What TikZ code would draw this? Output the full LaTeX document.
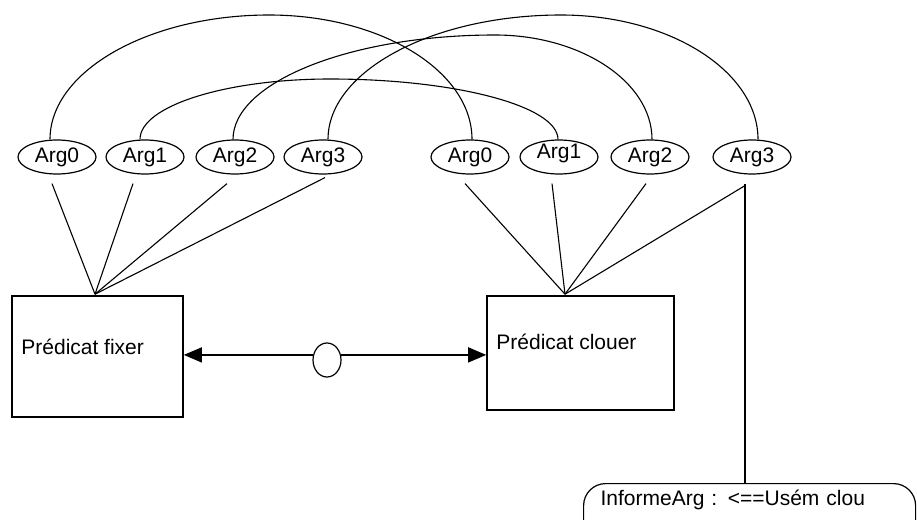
\documentclass[tikz,border=0pt]{standalone}
\usepackage{fontspec}
\setmainfont{Liberation Sans}
\usetikzlibrary{calc,arrows.meta,shapes.geometric}
\begin{document}
\begin{tikzpicture}[x=1pt,y=-1pt,
  font=\fontsize{21}{25}\selectfont,
  arg/.style={draw,ellipse,line width=1.2pt,minimum width=78pt,minimum height=34pt,
    inner sep=0pt,text height=15pt,text depth=4pt},
  pred/.style={draw,rectangle,line width=1.6pt,inner sep=0pt},
  plabel/.style={inner sep=0pt,anchor=base west},
  link/.style={line width=1.1pt},
  arcline/.style={line width=1.1pt},
  relation/.style={line width=1.4pt,>={Triangle[length=18pt,width=15pt]}},
  info/.style={draw,rounded corners=22pt,line width=1.2pt,minimum width=332pt,
    minimum height=60pt,inner xsep=17pt,inner ysep=0pt,text width=298pt,align=left,
    text height=16pt,text depth=32pt}]
\useasboundingbox (0,0) rectangle (917,519);
\clip (0,0) rectangle (917,519);

% argument slots of the two predicates
\node[arg] (l0) at (57,157) {Arg0};
\node[arg] (l1) at (145,157) {Arg1};
\node[arg] (l2) at (235,157) {Arg2};
\node[arg] (l3) at (323,157) {Arg3};
\node[arg] (r0) at (470,157) {Arg0};
\node[arg] (r1) at (559,157) {\raisebox{4pt}{Arg1}};
\node[arg] (r2) at (650,157) {Arg2};
\node[arg] (r3) at (752,157) {Arg3};

% predicate boxes
\node[pred,minimum width=171pt,minimum height=121pt] (lbox) at (97.5,356.5) {};
\node[pred,minimum width=187pt,minimum height=114pt] (rbox) at (580.5,353) {};
\node[plabel] (ltxt) at ($(lbox.north west)+(10,59)$) {Prédicat fixer};
\node[plabel] (rtxt) at ($(rbox.north west)+(10,54)$) {Prédicat clouer};

% relation between the predicates
\node[draw,ellipse,minimum width=28pt,minimum height=34pt,inner sep=0pt,line width=1.2pt] (mid) at (327,360) {};
\draw[relation,<-] (mid.160 -| lbox.east) -- (mid.160);
\draw[relation,->] (mid.20) -- (mid.20 -| rbox.west);

% slots hanging from each predicate
\coordinate (lhub) at ($(lbox.north)+(-2.5,-1)$);
\coordinate (rhub) at ($(rbox.north)+(-15.5,-1)$);
\draw[link] ($(l0.south)+(-5,9)$) -- (lhub);
\draw[link] ($(l1.south)+(-12,9)$) -- (lhub);
\draw[link] ($(l2.south)+(-8,9)$) -- (lhub);
\draw[link] ($(l3.south)+(2,3)$) -- (lhub);
\draw[link] ($(r0.south)+(-5,9)$) -- (rhub);
\draw[link] ($(r1.south)+(-7,9)$) -- (rhub);
\draw[link] ($(r2.south)+(-4,9)$) -- (rhub);
\draw[link] ($(r3.south)+(-7,11)$) -- (rhub);

% arcs pairing corresponding slots
\coordinate (p0) at (269,15);
\coordinate (p1) at (330,79);
\coordinate (p2) at (495,35);
\coordinate (p3) at (561,15);
\draw[arcline] ($(l0.north)+(-7,0)$) .. controls (50,71) and (149,15) .. (p0)
  .. controls (381,15) and (472,71) .. ($(r0.north)+(2,0)$);
\draw[arcline] ($(l1.north)+(-5,0)$) .. controls (140,106) and (226,79) .. (p1)
  .. controls (455,79) and (558,106) .. ($(r1.north)+(-1,0)$);
\draw[arcline] ($(l2.north)+(-2,0)$) .. controls (233,82) and (351,35) .. (p2)
  .. controls (581,35) and (652,82) .. ($(r2.north)+(2,0)$);
\draw[arcline] ($(l3.north)+(5,0)$) .. controls (328,71) and (433,15) .. (p3)
  .. controls (669,15) and (758,71) .. ($(r3.north)+(6,0)$);

% information attached to the last slot
\node[info,anchor=north west] (info) at (583,483) {InformeArg : <==Usém clou};
\coordinate (drop) at ($(r3.south)+(-7,9)$);
\draw[relation] (drop) -- (drop |- info.north);
\end{tikzpicture}
\end{document}
